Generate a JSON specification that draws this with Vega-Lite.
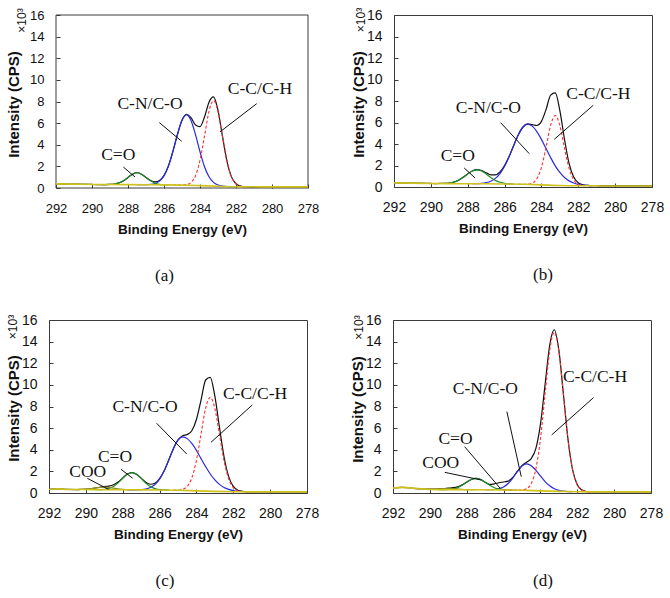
{
  "$schema": "https://vega.github.io/schema/vega-lite/v6.json",
  "padding": {"left": 5, "top": 6, "right": 0, "bottom": 0},
  "columns": 1,
  "align": "none",
  "bounds": "full",
  "spacing": 28,
  "datasets": {
    "frame": [
      {"e":292,"v":0,"e2":292,"v2":16},{"e":278,"v":0,"e2":278,"v2":16},{"e":292,"v":0,"e2":278,"v2":0},{"e":292,"v":16,"e2":278,"v2":16}
    ],
    "a": [
      {"s":"total","e":292,"v":0.38},{"s":"total","e":291,"v":0.36},{"s":"total","e":290,"v":0.33},{"s":"total","e":289.75,"v":0.32},{"s":"total","e":289.5,"v":0.32},{"s":"total","e":289.25,"v":0.32},{"s":"total","e":289,"v":0.33},{"s":"total","e":288.75,"v":0.37},{"s":"total","e":288.5,"v":0.47},{"s":"total","e":288.25,"v":0.67},{"s":"total","e":288,"v":0.98},{"s":"total","e":287.75,"v":1.28},{"s":"total","e":287.5,"v":1.41},{"s":"total","e":287.25,"v":1.28},{"s":"total","e":287,"v":0.98},{"s":"total","e":286.75,"v":0.69},{"s":"total","e":286.5,"v":0.57},{"s":"total","e":286.25,"v":0.69},{"s":"total","e":286,"v":1.15},{"s":"total","e":285.75,"v":2.06},{"s":"total","e":285.5,"v":3.41},{"s":"total","e":285.25,"v":4.97},{"s":"total","e":285,"v":6.27},{"s":"total","e":284.75,"v":6.82},{"s":"total","e":284.5,"v":6.51},{"s":"total","e":284.25,"v":5.83},{"s":"total","e":284,"v":5.68},{"s":"total","e":283.75,"v":6.56},{"s":"total","e":283.5,"v":7.94},{"s":"total","e":283.25,"v":8.42},{"s":"total","e":283,"v":7.18},{"s":"total","e":282.75,"v":4.77},{"s":"total","e":282.5,"v":2.47},{"s":"total","e":282.25,"v":1.03},{"s":"total","e":282,"v":0.39},{"s":"total","e":281.75,"v":0.18},{"s":"total","e":281.5,"v":0.12},{"s":"total","e":281,"v":0.11},{"s":"total","e":280,"v":0.1},{"s":"total","e":279,"v":0.1},{"s":"total","e":278,"v":0.1},
      {"s":"CN","e":287.5,"v":0.31},{"s":"CN","e":287.25,"v":0.31},{"s":"CN","e":287,"v":0.31},{"s":"CN","e":286.75,"v":0.34},{"s":"CN","e":286.5,"v":0.42},{"s":"CN","e":286.25,"v":0.64},{"s":"CN","e":286,"v":1.14},{"s":"CN","e":285.75,"v":2.05},{"s":"CN","e":285.5,"v":3.41},{"s":"CN","e":285.25,"v":4.97},{"s":"CN","e":285,"v":6.26},{"s":"CN","e":284.75,"v":6.76},{"s":"CN","e":284.5,"v":6.24},{"s":"CN","e":284.25,"v":4.93},{"s":"CN","e":284,"v":3.35},{"s":"CN","e":283.75,"v":1.97},{"s":"CN","e":283.5,"v":1.04},{"s":"CN","e":283.25,"v":0.52},{"s":"CN","e":283,"v":0.28},{"s":"CN","e":282.75,"v":0.18},{"s":"CN","e":282.5,"v":0.14},{"s":"CN","e":282.25,"v":0.13},{"s":"CN","e":282,"v":0.12},
      {"s":"CO","e":289.5,"v":0.32},{"s":"CO","e":289.25,"v":0.32},{"s":"CO","e":289,"v":0.33},{"s":"CO","e":288.75,"v":0.37},{"s":"CO","e":288.5,"v":0.47},{"s":"CO","e":288.25,"v":0.67},{"s":"CO","e":288,"v":0.98},{"s":"CO","e":287.75,"v":1.28},{"s":"CO","e":287.5,"v":1.41},{"s":"CO","e":287.25,"v":1.28},{"s":"CO","e":287,"v":0.97},{"s":"CO","e":286.75,"v":0.66},{"s":"CO","e":286.5,"v":0.45},{"s":"CO","e":286.25,"v":0.34},{"s":"CO","e":286,"v":0.3},{"s":"CO","e":285.75,"v":0.29},
      {"s":"CC","e":285.5,"v":0.28},{"s":"CC","e":285.25,"v":0.28},{"s":"CC","e":285,"v":0.28},{"s":"CC","e":284.75,"v":0.32},{"s":"CC","e":284.5,"v":0.52},{"s":"CC","e":284.25,"v":1.14},{"s":"CC","e":284,"v":2.55},{"s":"CC","e":283.75,"v":4.8},{"s":"CC","e":283.5,"v":7.09},{"s":"CC","e":283.25,"v":8.08},{"s":"CC","e":283,"v":7.06},{"s":"CC","e":282.75,"v":4.74},{"s":"CC","e":282.5,"v":2.46},{"s":"CC","e":282.25,"v":1.03},{"s":"CC","e":282,"v":0.39},{"s":"CC","e":281.75,"v":0.18},{"s":"CC","e":281.5,"v":0.12},{"s":"CC","e":281.25,"v":0.11},
      {"s":"bg","e":292,"v":0.38},{"s":"bg","e":291,"v":0.36},{"s":"bg","e":290,"v":0.33},{"s":"bg","e":289,"v":0.32},{"s":"bg","e":288,"v":0.31},{"s":"bg","e":287,"v":0.3},{"s":"bg","e":286,"v":0.29},{"s":"bg","e":285,"v":0.27},{"s":"bg","e":284,"v":0.22},{"s":"bg","e":283,"v":0.16},{"s":"bg","e":282,"v":0.12},{"s":"bg","e":281,"v":0.11},{"s":"bg","e":280,"v":0.1},{"s":"bg","e":278,"v":0.1}
    ],
    "b": [
      {"s":"total","e":292,"v":0.38},{"s":"total","e":291,"v":0.36},{"s":"total","e":290.25,"v":0.34},{"s":"total","e":290,"v":0.33},{"s":"total","e":289.75,"v":0.32},{"s":"total","e":289.5,"v":0.33},{"s":"total","e":289.25,"v":0.33},{"s":"total","e":289,"v":0.37},{"s":"total","e":288.75,"v":0.45},{"s":"total","e":288.5,"v":0.62},{"s":"total","e":288.25,"v":0.9},{"s":"total","e":288,"v":1.22},{"s":"total","e":287.75,"v":1.49},{"s":"total","e":287.5,"v":1.61},{"s":"total","e":287.25,"v":1.53},{"s":"total","e":287,"v":1.33},{"s":"total","e":286.75,"v":1.13},{"s":"total","e":286.5,"v":1.12},{"s":"total","e":286.25,"v":1.4},{"s":"total","e":286,"v":1.99},{"s":"total","e":285.75,"v":2.85},{"s":"total","e":285.5,"v":3.89},{"s":"total","e":285.25,"v":4.87},{"s":"total","e":285,"v":5.58},{"s":"total","e":284.75,"v":5.87},{"s":"total","e":284.5,"v":5.8},{"s":"total","e":284.25,"v":5.72},{"s":"total","e":284,"v":6.1},{"s":"total","e":283.75,"v":7.2},{"s":"total","e":283.5,"v":8.55},{"s":"total","e":283.25,"v":8.75},{"s":"total","e":283,"v":7.1},{"s":"total","e":282.75,"v":4.45},{"s":"total","e":282.5,"v":2.19},{"s":"total","e":282.25,"v":0.92},{"s":"total","e":282,"v":0.39},{"s":"total","e":281.75,"v":0.21},{"s":"total","e":281.5,"v":0.15},{"s":"total","e":281.25,"v":0.12},{"s":"total","e":281,"v":0.12},{"s":"total","e":280.75,"v":0.1},{"s":"total","e":280,"v":0.1},{"s":"total","e":279,"v":0.1},{"s":"total","e":278,"v":0.1},
      {"s":"CN","e":287.75,"v":0.3},{"s":"CN","e":287.5,"v":0.305},{"s":"CN","e":287.25,"v":0.34},{"s":"CN","e":287,"v":0.41},{"s":"CN","e":286.75,"v":0.54},{"s":"CN","e":286.5,"v":0.8},{"s":"CN","e":286.25,"v":1.25},{"s":"CN","e":286,"v":1.93},{"s":"CN","e":285.75,"v":2.84},{"s":"CN","e":285.5,"v":3.88},{"s":"CN","e":285.25,"v":4.87},{"s":"CN","e":285,"v":5.58},{"s":"CN","e":284.75,"v":5.84},{"s":"CN","e":284.5,"v":5.66},{"s":"CN","e":284.25,"v":5.15},{"s":"CN","e":284,"v":4.43},{"s":"CN","e":283.75,"v":3.58},{"s":"CN","e":283.5,"v":2.73},{"s":"CN","e":283.25,"v":1.97},{"s":"CN","e":283,"v":1.35},{"s":"CN","e":282.75,"v":0.89},{"s":"CN","e":282.5,"v":0.57},{"s":"CN","e":282.25,"v":0.37},{"s":"CN","e":282,"v":0.25},{"s":"CN","e":281.75,"v":0.18},{"s":"CN","e":281.5,"v":0.15},{"s":"CN","e":281.25,"v":0.12},
      {"s":"CO","e":289.75,"v":0.32},{"s":"CO","e":289.5,"v":0.325},{"s":"CO","e":289.25,"v":0.33},{"s":"CO","e":289,"v":0.37},{"s":"CO","e":288.75,"v":0.45},{"s":"CO","e":288.5,"v":0.62},{"s":"CO","e":288.25,"v":0.9},{"s":"CO","e":288,"v":1.22},{"s":"CO","e":287.75,"v":1.49},{"s":"CO","e":287.5,"v":1.6},{"s":"CO","e":287.25,"v":1.49},{"s":"CO","e":287,"v":1.22},{"s":"CO","e":286.75,"v":0.885},{"s":"CO","e":286.5,"v":0.614},{"s":"CO","e":286.25,"v":0.438},{"s":"CO","e":286,"v":0.337},{"s":"CO","e":285.75,"v":0.293},{"s":"CO","e":285.5,"v":0.275},
      {"s":"CC","e":285.25,"v":0.26},{"s":"CC","e":285,"v":0.25},{"s":"CC","e":284.75,"v":0.265},{"s":"CC","e":284.5,"v":0.37},{"s":"CC","e":284.25,"v":0.76},{"s":"CC","e":284,"v":1.82},{"s":"CC","e":283.75,"v":3.68},{"s":"CC","e":283.5,"v":5.74},{"s":"CC","e":283.25,"v":6.65},{"s":"CC","e":283,"v":5.71},{"s":"CC","e":282.75,"v":3.63},{"s":"CC","e":282.5,"v":1.74},{"s":"CC","e":282.25,"v":0.67},{"s":"CC","e":282,"v":0.26},{"s":"CC","e":281.75,"v":0.145},{"s":"CC","e":281.5,"v":0.12},
      {"s":"bg","e":292,"v":0.38},{"s":"bg","e":291,"v":0.36},{"s":"bg","e":290,"v":0.33},{"s":"bg","e":289,"v":0.31},{"s":"bg","e":288,"v":0.3},{"s":"bg","e":287,"v":0.3},{"s":"bg","e":286,"v":0.28},{"s":"bg","e":285,"v":0.25},{"s":"bg","e":284,"v":0.2},{"s":"bg","e":283,"v":0.14},{"s":"bg","e":282,"v":0.12},{"s":"bg","e":281,"v":0.12},{"s":"bg","e":280.8,"v":0.1},{"s":"bg","e":278,"v":0.1}
    ],
    "c": [
      {"s":"total","e":292,"v":0.35},{"s":"total","e":291.5,"v":0.38},{"s":"total","e":291,"v":0.33},{"s":"total","e":290.5,"v":0.32},{"s":"total","e":290.25,"v":0.33},{"s":"total","e":290,"v":0.354},{"s":"total","e":289.75,"v":0.39},{"s":"total","e":289.5,"v":0.46},{"s":"total","e":289.25,"v":0.53},{"s":"total","e":289,"v":0.59},{"s":"total","e":288.75,"v":0.64},{"s":"total","e":288.5,"v":0.76},{"s":"total","e":288.25,"v":1.01},{"s":"total","e":288,"v":1.39},{"s":"total","e":287.75,"v":1.75},{"s":"total","e":287.5,"v":1.89},{"s":"total","e":287.25,"v":1.74},{"s":"total","e":287,"v":1.38},{"s":"total","e":286.75,"v":1.0},{"s":"total","e":286.5,"v":0.81},{"s":"total","e":286.25,"v":0.9},{"s":"total","e":286,"v":1.32},{"s":"total","e":285.75,"v":2.06},{"s":"total","e":285.5,"v":3.06},{"s":"total","e":285.25,"v":4.1},{"s":"total","e":285,"v":4.91},{"s":"total","e":284.75,"v":5.29},{"s":"total","e":284.5,"v":5.41},{"s":"total","e":284.25,"v":5.76},{"s":"total","e":284,"v":6.8},{"s":"total","e":283.75,"v":8.6},{"s":"total","e":283.5,"v":10.45},{"s":"total","e":283.25,"v":10.7},{"s":"total","e":283,"v":8.95},{"s":"total","e":282.75,"v":6.08},{"s":"total","e":282.5,"v":3.33},{"s":"total","e":282.25,"v":1.52},{"s":"total","e":282,"v":0.61},{"s":"total","e":281.75,"v":0.26},{"s":"total","e":281.5,"v":0.16},{"s":"total","e":281.25,"v":0.11},{"s":"total","e":281,"v":0.1},{"s":"total","e":280,"v":0.1},{"s":"total","e":279,"v":0.1},{"s":"total","e":278,"v":0.1},
      {"s":"CN","e":287.75,"v":0.3},{"s":"CN","e":287.5,"v":0.292},{"s":"CN","e":287.25,"v":0.298},{"s":"CN","e":287,"v":0.318},{"s":"CN","e":286.75,"v":0.369},{"s":"CN","e":286.5,"v":0.505},{"s":"CN","e":286.25,"v":0.78},{"s":"CN","e":286,"v":1.28},{"s":"CN","e":285.75,"v":2.05},{"s":"CN","e":285.5,"v":3.055},{"s":"CN","e":285.25,"v":4.1},{"s":"CN","e":285,"v":4.89},{"s":"CN","e":284.75,"v":5.19},{"s":"CN","e":284.5,"v":5.03},{"s":"CN","e":284.25,"v":4.58},{"s":"CN","e":284,"v":3.94},{"s":"CN","e":283.75,"v":3.18},{"s":"CN","e":283.5,"v":2.44},{"s":"CN","e":283.25,"v":1.76},{"s":"CN","e":283,"v":1.21},{"s":"CN","e":282.75,"v":0.8},{"s":"CN","e":282.5,"v":0.51},{"s":"CN","e":282.25,"v":0.34},{"s":"CN","e":282,"v":0.23},{"s":"CN","e":281.75,"v":0.165},{"s":"CN","e":281.5,"v":0.14},{"s":"CN","e":281.25,"v":0.11},
      {"s":"CO","e":289.5,"v":0.312},{"s":"CO","e":289.25,"v":0.31},{"s":"CO","e":289,"v":0.339},{"s":"CO","e":288.75,"v":0.421},{"s":"CO","e":288.5,"v":0.606},{"s":"CO","e":288.25,"v":0.932},{"s":"CO","e":288,"v":1.359},{"s":"CO","e":287.75,"v":1.743},{"s":"CO","e":287.5,"v":1.89},{"s":"CO","e":287.25,"v":1.733},{"s":"CO","e":287,"v":1.349},{"s":"CO","e":286.75,"v":0.917},{"s":"CO","e":286.5,"v":0.591},{"s":"CO","e":286.25,"v":0.401},{"s":"CO","e":286,"v":0.319},{"s":"CO","e":285.75,"v":0.28},{"s":"CO","e":285.5,"v":0.265},
      {"s":"COO","e":290.5,"v":0.32},{"s":"COO","e":290.25,"v":0.33},{"s":"COO","e":290,"v":0.354},{"s":"COO","e":289.75,"v":0.39},{"s":"COO","e":289.5,"v":0.46},{"s":"COO","e":289.25,"v":0.52},{"s":"COO","e":289,"v":0.55},{"s":"COO","e":288.75,"v":0.52},{"s":"COO","e":288.5,"v":0.45},{"s":"COO","e":288.25,"v":0.38},{"s":"COO","e":288,"v":0.334},{"s":"COO","e":287.75,"v":0.311},{"s":"COO","e":287.5,"v":0.29},
      {"s":"CC","e":285.25,"v":0.26},{"s":"CC","e":285,"v":0.27},{"s":"CC","e":284.75,"v":0.337},{"s":"CC","e":284.5,"v":0.61},{"s":"CC","e":284.25,"v":1.39},{"s":"CC","e":284,"v":3.02},{"s":"CC","e":283.75,"v":5.46},{"s":"CC","e":283.5,"v":7.85},{"s":"CC","e":283.25,"v":8.85},{"s":"CC","e":283,"v":7.82},{"s":"CC","e":282.75,"v":5.41},{"s":"CC","e":282.5,"v":2.94},{"s":"CC","e":282.25,"v":1.3},{"s":"CC","e":282,"v":0.5},{"s":"CC","e":281.75,"v":0.207},{"s":"CC","e":281.5,"v":0.13},{"s":"CC","e":281.25,"v":0.1},
      {"s":"bg","e":292,"v":0.35},{"s":"bg","e":291.5,"v":0.38},{"s":"bg","e":291,"v":0.33},{"s":"bg","e":290,"v":0.32},{"s":"bg","e":289,"v":0.3},{"s":"bg","e":288,"v":0.3},{"s":"bg","e":287,"v":0.29},{"s":"bg","e":286,"v":0.28},{"s":"bg","e":285,"v":0.25},{"s":"bg","e":284,"v":0.2},{"s":"bg","e":283,"v":0.15},{"s":"bg","e":282,"v":0.12},{"s":"bg","e":281,"v":0.1},{"s":"bg","e":278,"v":0.1}
    ],
    "d": [
      {"s":"total","e":292,"v":0.45},{"s":"total","e":291.75,"v":0.5},{"s":"total","e":291.5,"v":0.52},{"s":"total","e":291.25,"v":0.5},{"s":"total","e":291,"v":0.45},{"s":"total","e":290.75,"v":0.41},{"s":"total","e":290.5,"v":0.38},{"s":"total","e":290.25,"v":0.35},{"s":"total","e":290,"v":0.35},{"s":"total","e":289.75,"v":0.36},{"s":"total","e":289.5,"v":0.38},{"s":"total","e":289.25,"v":0.41},{"s":"total","e":289,"v":0.45},{"s":"total","e":288.75,"v":0.49},{"s":"total","e":288.5,"v":0.57},{"s":"total","e":288.25,"v":0.75},{"s":"total","e":288,"v":1.01},{"s":"total","e":287.75,"v":1.25},{"s":"total","e":287.5,"v":1.35},{"s":"total","e":287.25,"v":1.25},{"s":"total","e":287,"v":1.0},{"s":"total","e":286.75,"v":0.8},{"s":"total","e":286.5,"v":0.85},{"s":"total","e":286.25,"v":0.95},{"s":"total","e":286,"v":1.02},{"s":"total","e":285.75,"v":1.1},{"s":"total","e":285.5,"v":1.45},{"s":"total","e":285.25,"v":1.99},{"s":"total","e":285,"v":2.53},{"s":"total","e":284.75,"v":2.85},{"s":"total","e":284.5,"v":3.18},{"s":"total","e":284.25,"v":4.1},{"s":"total","e":284,"v":6.35},{"s":"total","e":283.75,"v":9.98},{"s":"total","e":283.5,"v":13.64},{"s":"total","e":283.25,"v":15.1},{"s":"total","e":283,"v":13.22},{"s":"total","e":282.75,"v":9.09},{"s":"total","e":282.5,"v":4.9},{"s":"total","e":282.25,"v":2.11},{"s":"total","e":282,"v":0.77},{"s":"total","e":281.75,"v":0.27},{"s":"total","e":281.5,"v":0.13},{"s":"total","e":281.25,"v":0.1},{"s":"total","e":280,"v":0.1},{"s":"total","e":279,"v":0.1},{"s":"total","e":278,"v":0.1},
      {"s":"CN","e":287,"v":0.3},{"s":"CN","e":286.75,"v":0.31},{"s":"CN","e":286.5,"v":0.325},{"s":"CN","e":286.25,"v":0.4},{"s":"CN","e":286,"v":0.56},{"s":"CN","e":285.75,"v":0.88},{"s":"CN","e":285.5,"v":1.385},{"s":"CN","e":285.25,"v":1.99},{"s":"CN","e":285,"v":2.5},{"s":"CN","e":284.75,"v":2.69},{"s":"CN","e":284.5,"v":2.53},{"s":"CN","e":284.25,"v":2.11},{"s":"CN","e":284,"v":1.58},{"s":"CN","e":283.75,"v":1.06},{"s":"CN","e":283.5,"v":0.67},{"s":"CN","e":283.25,"v":0.4},{"s":"CN","e":283,"v":0.25},{"s":"CN","e":282.75,"v":0.17},{"s":"CN","e":282.5,"v":0.134},{"s":"CN","e":282.25,"v":0.12},
      {"s":"CO","e":289.5,"v":0.31},{"s":"CO","e":289.25,"v":0.307},{"s":"CO","e":289,"v":0.326},{"s":"CO","e":288.75,"v":0.379},{"s":"CO","e":288.5,"v":0.501},{"s":"CO","e":288.25,"v":0.715},{"s":"CO","e":288,"v":0.995},{"s":"CO","e":287.75,"v":1.247},{"s":"CO","e":287.5,"v":1.35},{"s":"CO","e":287.25,"v":1.247},{"s":"CO","e":287,"v":0.995},{"s":"CO","e":286.75,"v":0.715},{"s":"CO","e":286.5,"v":0.491},{"s":"CO","e":286.25,"v":0.369},{"s":"CO","e":286,"v":0.306},{"s":"CO","e":285.75,"v":0.277},{"s":"CO","e":285.5,"v":0.265},
      {"s":"COO","e":290.25,"v":0.35},{"s":"COO","e":290,"v":0.346},{"s":"COO","e":289.75,"v":0.359},{"s":"COO","e":289.5,"v":0.383},{"s":"COO","e":289.25,"v":0.406},{"s":"COO","e":289,"v":0.42},{"s":"COO","e":288.75,"v":0.406},{"s":"COO","e":288.5,"v":0.373},{"s":"COO","e":288.25,"v":0.339},{"s":"COO","e":288,"v":0.316},{"s":"COO","e":287.75,"v":0.305},{"s":"COO","e":287.5,"v":0.3},
      {"s":"CC","e":286,"v":0.28},{"s":"CC","e":285.75,"v":0.27},{"s":"CC","e":285.5,"v":0.266},{"s":"CC","e":285.25,"v":0.265},{"s":"CC","e":285,"v":0.282},{"s":"CC","e":284.75,"v":0.403},{"s":"CC","e":284.5,"v":0.875},{"s":"CC","e":284.25,"v":2.2},{"s":"CC","e":284,"v":4.97},{"s":"CC","e":283.75,"v":9.1},{"s":"CC","e":283.5,"v":13.14},{"s":"CC","e":283.25,"v":14.85},{"s":"CC","e":283,"v":13.11},{"s":"CC","e":282.75,"v":9.05},{"s":"CC","e":282.5,"v":4.89},{"s":"CC","e":282.25,"v":2.11},{"s":"CC","e":282,"v":0.765},{"s":"CC","e":281.75,"v":0.273},{"s":"CC","e":281.5,"v":0.132},{"s":"CC","e":281.25,"v":0.1},
      {"s":"bg","e":292,"v":0.45},{"s":"bg","e":291.75,"v":0.5},{"s":"bg","e":291.5,"v":0.52},{"s":"bg","e":291.25,"v":0.5},{"s":"bg","e":291,"v":0.45},{"s":"bg","e":290.5,"v":0.38},{"s":"bg","e":290,"v":0.33},{"s":"bg","e":289.5,"v":0.31},{"s":"bg","e":289,"v":0.3},{"s":"bg","e":288,"v":0.3},{"s":"bg","e":287,"v":0.3},{"s":"bg","e":286,"v":0.28},{"s":"bg","e":285,"v":0.25},{"s":"bg","e":284,"v":0.2},{"s":"bg","e":283,"v":0.15},{"s":"bg","e":282,"v":0.12},{"s":"bg","e":281.5,"v":0.1},{"s":"bg","e":278,"v":0.1}
    ],
    "labels": [
      {"p":"a","t":"C-C/C-H","e":280.67,"v":9.14},{"p":"a","t":"C-N/C-O","e":286.78,"v":7.8},{"p":"a","t":"C=O","e":288.54,"v":3.08},
      {"p":"b","t":"C-C/C-H","e":280.91,"v":8.68},{"p":"b","t":"C-N/C-O","e":286.88,"v":7.35},{"p":"b","t":"C=O","e":288.54,"v":2.88},
      {"p":"c","t":"C-C/C-H","e":280.82,"v":9.16},{"p":"c","t":"C-N/C-O","e":286.79,"v":7.93},{"p":"c","t":"C=O","e":288.42,"v":3.3},{"p":"c","t":"COO","e":289.9,"v":1.97},
      {"p":"d","t":"C-C/C-H","e":281.04,"v":10.7},{"p":"d","t":"C-N/C-O","e":286.99,"v":9.59},{"p":"d","t":"C=O","e":288.61,"v":4.97},{"p":"d","t":"COO","e":289.41,"v":2.75}
    ],
    "leaders": [
      {"p":"a","e":280.85,"v":7.8,"e2":282.89,"v2":5.19},{"p":"a","e":286.26,"v":6.05,"e2":285.02,"v2":4.32},{"p":"a","e":288.26,"v":1.94,"e2":287.61,"v2":1.02},
      {"p":"b","e":281.19,"v":7.6,"e2":283.3,"v2":4.44},{"p":"b","e":286.21,"v":5.98,"e2":284.66,"v2":3.1},{"p":"b","e":288.19,"v":1.77,"e2":287.6,"v2":0.84},
      {"p":"c","e":280.97,"v":8.14,"e2":283.21,"v2":4.69},{"p":"c","e":286.16,"v":6.45,"e2":284.53,"v2":3.61},{"p":"c","e":288.09,"v":2.19,"e2":287.46,"v2":1.36},{"p":"c","e":289.92,"v":1.36,"e2":288.78,"v2":0.34},
      {"p":"d","e":281.12,"v":8.82,"e2":283.39,"v2":5.37},{"p":"d","e":285.82,"v":7.52,"e2":285.04,"v2":1.51},{"p":"d","e":288.11,"v":4.28,"e2":286.18,"v2":0.43},{"p":"d","e":289.19,"v":1.91,"e2":287.21,"v2":1.2}
    ]
  },
  "concat": [
    {
      "bounds": "flush",
      "spacing": 86,
      "hconcat": [
        {
          "width": 259, "height": 173,
          "view": {"stroke": null},
          "title": {"text": "(a)", "offset": 32, "dx": -14},
          "resolve": {"axis": {"y": "independent"}},
          "encoding": {
            "x": {"field": "e", "type": "quantitative", "scale": {"domain": [278, 292], "range": [259, 7]},
                  "axis": {"values": [278, 280, 282, 284, 286, 288, 290, 292], "title": "Binding Energy (eV)", "labelFontSize": 13, "labelPadding": 18, "titleY": 41, "titleX": 133}},
            "y": {"field": "v", "type": "quantitative", "scale": {"domain": [0, 16]}, "axis": null}
          },
          "layer": [
            {"data": {"name": "frame"}, "mark": {"type": "rule", "color": "#3a3a3a"},
             "encoding": {"x2": {"field": "e2"}, "y2": {"field": "v2"}}},
            {"data": {"name": "a"}, "transform": [{"filter": "datum.s !== 'CC' && datum.s !== 'bg'"}],
             "mark": {"type": "line", "interpolate": "monotone", "strokeWidth": 1.2},
             "encoding": {
               "y": {"field": "v", "type": "quantitative", "scale": {"domain": [0, 16]},
                     "axis": {"values": [0, 2, 4, 6, 8, 10, 12, 14, 16], "title": "Intensity (CPS)", "labelFontSize": 13, "labelPadding": 16, "offset": -7, "titleX": -43, "titleY": 89}},
               "color": {"field": "s", "type": "nominal", "legend": null,
                         "scale": {"domain": ["total", "CN", "CO", "COO"], "range": ["#111111", "#2a2ae0", "#1f8a2a", "#8f8f1f"]}}
             }},
            {"data": {"name": "a"}, "transform": [{"filter": "datum.s === 'CC'"}],
             "mark": {"type": "line", "interpolate": "monotone", "strokeWidth": 1.1, "color": "#ff3030", "strokeDash": [3, 2]}},
            {"data": {"name": "a"}, "transform": [{"filter": "datum.s === 'bg'"}],
             "mark": {"type": "line", "interpolate": "monotone", "strokeWidth": 1.6, "color": "#cfc21c"}},
            {"data": {"name": "leaders"}, "transform": [{"filter": "datum.p === 'a'"}],
             "mark": {"type": "rule"},
             "encoding": {"x2": {"field": "e2"}, "y2": {"field": "v2"}}},
            {"data": {"name": "labels"}, "transform": [{"filter": "datum.p === 'a'"}],
             "mark": {"type": "text"},
             "encoding": {"y": {"field": "v", "type": "quantitative", "scale": {"domain": [0, 16]},
                                "axis": {"orient": "left", "title": "×10³", "labels": false, "ticks": false, "offset": -7, "titleFontSize": 12, "titleFontWeight": "normal", "titleX": -35, "titleY": 5}},
                          "text": {"field": "t"}}}
          ]
        },
        {
          "width": 258, "height": 172,
          "title": {"text": "(b)", "offset": 32, "dx": 20},
          "resolve": {"axis": {"y": "independent"}},
          "encoding": {
            "x": {"field": "e", "type": "quantitative", "scale": {"domain": [278, 292], "reverse": true},
                  "axis": {"values": [278, 280, 282, 284, 286, 288, 290, 292], "title": "Binding Energy (eV)", "labelFontSize": 14, "labelPadding": 17, "titleY": 41}},
            "y": {"field": "v", "type": "quantitative", "scale": {"domain": [0, 16]}, "axis": null}
          },
          "layer": [
            {"data": {"name": "b"}, "transform": [{"filter": "datum.s !== 'CC' && datum.s !== 'bg'"}],
             "mark": {"type": "line", "interpolate": "monotone", "strokeWidth": 1.2},
             "encoding": {
               "y": {"field": "v", "type": "quantitative", "scale": {"domain": [0, 16]},
                     "axis": {"values": [0, 2, 4, 6, 8, 10, 12, 14, 16], "title": "Intensity (CPS)", "labelFontSize": 14, "labelPadding": 16, "titleX": -36, "titleY": 89}},
               "color": {"field": "s", "type": "nominal", "legend": null,
                         "scale": {"domain": ["total", "CN", "CO", "COO"], "range": ["#111111", "#2a2ae0", "#1f8a2a", "#8f8f1f"]}}
             }},
            {"data": {"name": "b"}, "transform": [{"filter": "datum.s === 'CC'"}],
             "mark": {"type": "line", "interpolate": "monotone", "strokeWidth": 1.1, "color": "#ff3030", "strokeDash": [3, 2]}},
            {"data": {"name": "b"}, "transform": [{"filter": "datum.s === 'bg'"}],
             "mark": {"type": "line", "interpolate": "monotone", "strokeWidth": 1.6, "color": "#cfc21c"}},
            {"data": {"name": "leaders"}, "transform": [{"filter": "datum.p === 'b'"}],
             "mark": {"type": "rule"},
             "encoding": {"x2": {"field": "e2"}, "y2": {"field": "v2"}}},
            {"data": {"name": "labels"}, "transform": [{"filter": "datum.p === 'b'"}],
             "mark": {"type": "text"},
             "encoding": {"y": {"field": "v", "type": "quantitative", "scale": {"domain": [0, 16]},
                                "axis": {"orient": "left", "title": "×10³", "labels": false, "ticks": false, "titleFontSize": 12, "titleFontWeight": "normal", "titleX": -34, "titleY": 4.5}},
                          "text": {"field": "t"}}}
          ]
        }
      ]
    },
    {
      "bounds": "flush",
      "spacing": 86,
      "hconcat": [
        {
          "width": 258, "height": 173,
          "title": {"text": "(c)", "offset": 32, "dx": -13},
          "resolve": {"axis": {"y": "independent"}},
          "encoding": {
            "x": {"field": "e", "type": "quantitative", "scale": {"domain": [278, 292], "reverse": true},
                  "axis": {"values": [278, 280, 282, 284, 286, 288, 290, 292], "title": "Binding Energy (eV)", "labelFontSize": 14, "labelPadding": 17, "titleY": 41}},
            "y": {"field": "v", "type": "quantitative", "scale": {"domain": [0, 16]}, "axis": null}
          },
          "layer": [
            {"data": {"name": "c"}, "transform": [{"filter": "datum.s !== 'CC' && datum.s !== 'bg'"}],
             "mark": {"type": "line", "interpolate": "monotone", "strokeWidth": 1.2},
             "encoding": {
               "y": {"field": "v", "type": "quantitative", "scale": {"domain": [0, 16]},
                     "axis": {"values": [0, 2, 4, 6, 8, 10, 12, 14, 16], "title": "Intensity (CPS)", "labelFontSize": 14, "labelPadding": 16, "titleX": -36, "titleY": 88}},
               "color": {"field": "s", "type": "nominal", "legend": null,
                         "scale": {"domain": ["total", "CN", "CO", "COO"], "range": ["#111111", "#2a2ae0", "#1f8a2a", "#8f8f1f"]}}
             }},
            {"data": {"name": "c"}, "transform": [{"filter": "datum.s === 'CC'"}],
             "mark": {"type": "line", "interpolate": "monotone", "strokeWidth": 1.1, "color": "#ff3030", "strokeDash": [3, 2]}},
            {"data": {"name": "c"}, "transform": [{"filter": "datum.s === 'bg'"}],
             "mark": {"type": "line", "interpolate": "monotone", "strokeWidth": 1.6, "color": "#cfc21c"}},
            {"data": {"name": "leaders"}, "transform": [{"filter": "datum.p === 'c'"}],
             "mark": {"type": "rule"},
             "encoding": {"x2": {"field": "e2"}, "y2": {"field": "v2"}}},
            {"data": {"name": "labels"}, "transform": [{"filter": "datum.p === 'c'"}],
             "mark": {"type": "text"},
             "encoding": {"y": {"field": "v", "type": "quantitative", "scale": {"domain": [0, 16]},
                                "axis": {"orient": "left", "title": "×10³", "labels": false, "ticks": false, "titleFontSize": 12, "titleFontWeight": "normal", "titleX": -37, "titleY": 6.5}},
                          "text": {"field": "t"}}}
          ]
        },
        {
          "width": 258, "height": 173,
          "title": {"text": "(d)", "offset": 32, "dx": 21},
          "resolve": {"axis": {"y": "independent"}},
          "encoding": {
            "x": {"field": "e", "type": "quantitative", "scale": {"domain": [278, 292], "reverse": true},
                  "axis": {"values": [278, 280, 282, 284, 286, 288, 290, 292], "title": "Binding Energy (eV)", "labelFontSize": 14, "labelPadding": 17, "titleY": 41}},
            "y": {"field": "v", "type": "quantitative", "scale": {"domain": [0, 16]}, "axis": null}
          },
          "layer": [
            {"data": {"name": "d"}, "transform": [{"filter": "datum.s !== 'CC' && datum.s !== 'bg'"}],
             "mark": {"type": "line", "interpolate": "monotone", "strokeWidth": 1.2},
             "encoding": {
               "y": {"field": "v", "type": "quantitative", "scale": {"domain": [0, 16]},
                     "axis": {"values": [0, 2, 4, 6, 8, 10, 12, 14, 16], "title": "Intensity (CPS)", "labelFontSize": 14, "labelPadding": 16, "titleX": -36, "titleY": 89}},
               "color": {"field": "s", "type": "nominal", "legend": null,
                         "scale": {"domain": ["total", "CN", "CO", "COO"], "range": ["#111111", "#2a2ae0", "#1f8a2a", "#8f8f1f"]}}
             }},
            {"data": {"name": "d"}, "transform": [{"filter": "datum.s === 'CC'"}],
             "mark": {"type": "line", "interpolate": "monotone", "strokeWidth": 1.1, "color": "#ff3030", "strokeDash": [3, 2]}},
            {"data": {"name": "d"}, "transform": [{"filter": "datum.s === 'bg'"}],
             "mark": {"type": "line", "interpolate": "monotone", "strokeWidth": 1.6, "color": "#cfc21c"}},
            {"data": {"name": "leaders"}, "transform": [{"filter": "datum.p === 'd'"}],
             "mark": {"type": "rule"},
             "encoding": {"x2": {"field": "e2"}, "y2": {"field": "v2"}}},
            {"data": {"name": "labels"}, "transform": [{"filter": "datum.p === 'd'"}],
             "mark": {"type": "text"},
             "encoding": {"y": {"field": "v", "type": "quantitative", "scale": {"domain": [0, 16]},
                                "axis": {"orient": "left", "title": "×10³", "labels": false, "ticks": false, "titleFontSize": 12, "titleFontWeight": "normal", "titleX": -35, "titleY": 7}},
                          "text": {"field": "t"}}}
          ]
        }
      ]
    }
  ],
  "config": {
    "font": "Liberation Sans",
    "view": {"stroke": "#3a3a3a", "strokeWidth": 1},
    "axis": {"domain": false, "grid": false, "tickSize": -4, "tickColor": "#3a3a3a", "labelColor": "#111111", "titleColor": "#111111",
             "labelFont": "Liberation Sans", "titleFont": "Liberation Sans", "titleFontSize": 13.5, "titleFontWeight": "bold",
             "labelFlush": false, "labelOverlap": false},
    "axisX": {"titleBaseline": "middle"},
    "axisY": {"titleFontSize": 15, "titleAngle": 270, "titleAlign": "center", "titleBaseline": "middle"},
    "title": {"orient": "bottom", "anchor": "middle", "font": "Liberation Serif", "fontSize": 17, "fontWeight": "normal", "color": "#111111"},
    "text": {"font": "Liberation Serif", "fontSize": 17.5, "color": "#111111", "align": "center", "baseline": "middle"},
    "rule": {"color": "#111111", "strokeWidth": 1}
  }
}
